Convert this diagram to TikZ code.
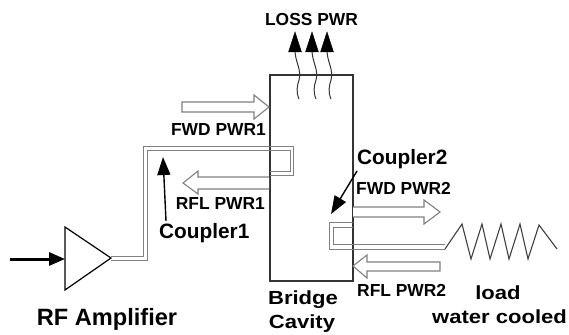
\documentclass[tikz,border=0pt]{standalone}
\usepackage{fontspec}
\setmainfont{Liberation Sans}
\usetikzlibrary{arrows.meta}
\definecolor{wallgray}{gray}{0.2}
\definecolor{pipegray}{gray}{0.5}
\newcommand{\widelbl}[1]{\scalebox{1.16}[1]{#1}}
\tikzset{
  lbl/.style={font=\bfseries\fontsize{17.4}{19}\selectfont, inner sep=0pt, text=black},
  lblbig/.style={font=\bfseries\fontsize{20.8}{23}\selectfont, inner sep=0pt, text=black},
  lblload/.style={font=\bfseries\fontsize{19}{21}\selectfont, inner sep=0pt, text=black},
  hollow/.style={draw=pipegray, fill=white, line width=1.1pt, line join=miter},
  pipe/.style={draw=pipegray, line width=1pt},
  lossarrow/.style={draw=black!80, line width=1pt},
  pointer/.style={-{Triangle[length=18pt,width=13pt]}, line width=1.4pt}
}
\begin{document}
\begin{tikzpicture}[x=1pt,y=-1pt]
                \useasboundingbox (0,0) rectangle (569,334);

                % Bridge cavity
                \node[draw=wallgray, line width=1.3pt, minimum width=83pt, minimum height=206pt, inner sep=0pt] (cavity) at (311.5,178) {};

                % Loss power
                \node[lbl] (loss) at (311.5,20) {LOSS PWR};
                \foreach \px/\name in {295/a,312/b,327/c} {
                    \coordinate (wave\name) at (\px+4,99);
                    \coordinate (tip\name) at (\px,32);
                    \draw[lossarrow] (wave\name) .. controls (\px+1,92) and (\px+2,86) .. (\px+4,80)
                        .. controls (\px+7,70) and (\px,62) .. (\px,50);
                    \draw[fill=black] (tip\name) -- ++(6.5,20) -- ++(-13,0) -- cycle;
                }

                % Coupler 1 line
                \coordinate (amptip) at (111,258);
                \draw[pipe] (amptip) ++(0,-2) -| (143,146.5) -| (293,175) -- (270,175);
                \draw[pipe] (amptip) ++(0,2) -| (147,150.5) -| (290,171) -- (270,171);

                % Forward and reflected arrows
                \draw[hollow] (182,102) -- (254,102) -- (254,95) -- (269,107) -- (254,119) -- (254,112) -- (182,112) -- cycle;
                \node[lbl, anchor=east] (fwdone) at (266,130) {FWD PWR1};
                \draw[hollow] (269,177) -- (198,177) -- (198,171) -- (183,183) -- (198,194) -- (198,189) -- (269,189);
                \node[lbl, anchor=east] (rflone) at (265,204) {RFL PWR1};
                \draw[hollow] (353,207) -- (424,207) -- (424,200) -- (440,212) -- (424,224) -- (424,217) -- (353,217);
                \node[lbl, anchor=west] (fwdtwo) at (356,188) {FWD PWR2};
                \draw[hollow] (353,266) -- (367,255) -- (367,262) -- (440,262) -- (440,271) -- (367,271) -- (367,278) -- cycle;
                \node[lbl, anchor=west] (rfltwo) at (357,290) {RFL PWR2};

                % Amplifier
                \coordinate (ampa) at (65,227);
                \coordinate (ampb) at (65,290);
                \draw[line width=1.2pt, line join=miter, fill=white] (ampa) -- (amptip) -- (ampb) -- cycle;
                \coordinate (rfin) at (10,259);
                \draw[-{Triangle[length=16pt,width=13pt]}, line width=3pt] (rfin) -- (65,259);
                \node[font=\bfseries\fontsize{23.6}{26}\selectfont, inner sep=0pt] (amp) at (107,319) {RF Amplifier};

                % Coupler pointers
                \coordinate (cplonefoot) at (166,221);
                \draw[pointer] (cplonefoot) -- (163,157);
                \node[lblbig, anchor=west] (cplone) at (159,233) {Coupler1};

                \draw[pipe] (445,249) -- (329,249) -- (329,222) -- (353,222);
                \draw[pipe] (445,244) -- (333,244) -- (333,227) -- (353,227);
                \coordinate (cpltwotail) at (357,171);
                \draw[pointer] (cpltwotail) -- (331,214);
                \node[lblbig, anchor=west] (cpltwo) at (357,159) {Coupler2};

                % Load
                \draw[draw=black!75, line width=1.1pt, line join=miter] (445,249) -- (462,224) -- (471,259) -- (482,224) -- (490,259) -- (501,224) -- (509,259) -- (520,224) -- (528,259) -- (539,225) -- (557,249);
                \node[lblload] (load) at (498,293) {\widelbl{load}};
                \node[lblload] (cooled) at (499.5,317) {\widelbl{water cooled}};

                % Cavity label
                \node[lblload] (bridge) at (303,300) {\widelbl{Bridge}};
                \node[lblload] (cav) at (302,324) {\widelbl{Cavity}};
            \end{tikzpicture}
\end{document}
